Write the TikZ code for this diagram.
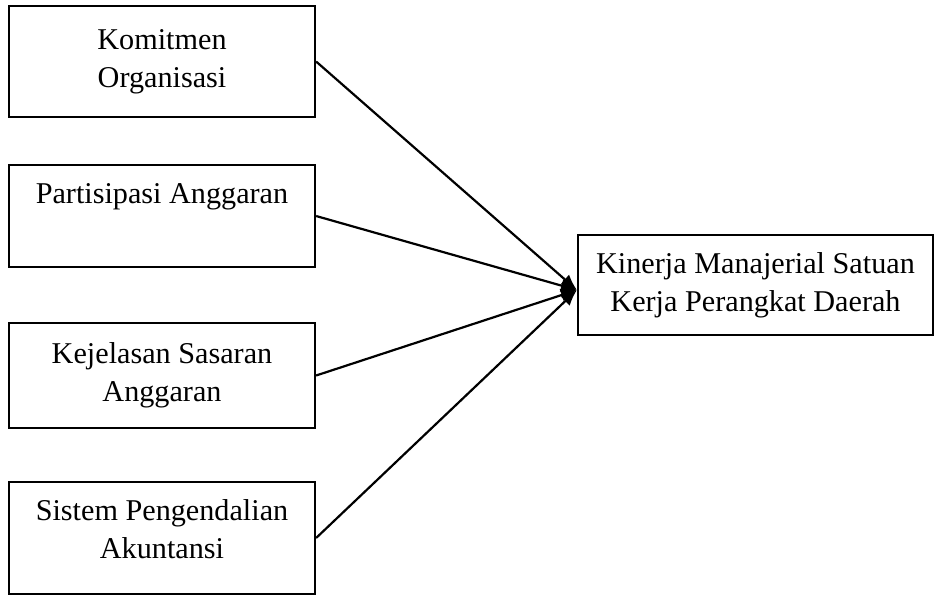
\documentclass[tikz,border=0pt]{standalone}
\usepackage{fontspec}
\setmainfont{Liberation Serif}
\usetikzlibrary{arrows.meta}

\begin{document}
\begin{tikzpicture}[
        x=0.5pt, y=-0.5pt,
        kotak/.style={draw, line width=1.1pt, minimum width=153pt, align=center,
          inner sep=0pt, font=\fontsize{15.1}{19}\selectfont},
        panah/.style={line width=1.1pt, -{Latex[length=8pt,width=6.5pt]}}]
        % batas gambar
        \useasboundingbox (0,0) rectangle (940,596);
        % variabel bebas
        \node[kotak, minimum height=55.5pt] (komitmen) at (162,61.5) {Komitmen\\Organisasi};
        \node[kotak, minimum height=51pt, text height=10pt, text depth=23pt] (partisipasi) at (162,216) {Partisipasi Anggaran};
        \node[kotak, minimum height=52.5pt] (kejelasan) at (162,375.5) {Kejelasan Sasaran\\Anggaran};
        \node[kotak, minimum height=56pt, text depth=9pt] (sistem) at (162,538) {Sistem Pengendalian\\Akuntansi};
        % variabel terikat
        \node[kotak, minimum width=177.5pt, minimum height=50pt] (kinerja) at (755.5,285) {Kinerja Manajerial Satuan\\Kerja Perangkat Daerah};
        % titik temu panah
        \coordinate (temu) at ([yshift=-2.5pt]kinerja.west);
        % garis panah
        \foreach \asal in {komitmen,partisipasi,kejelasan,sistem}
          \draw[panah] (\asal.east) -- (temu);
\end{tikzpicture}
\end{document}
